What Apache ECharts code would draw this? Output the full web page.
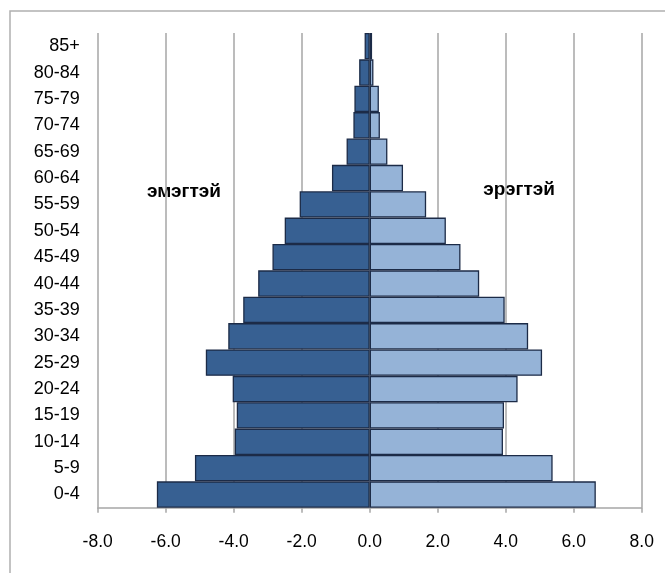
<!DOCTYPE html>
<html>
<head>
<meta charset="utf-8">
<script src="https://cdn.jsdelivr.net/npm/echarts@6/dist/echarts.min.js"></script>
<style>
html,body{margin:0;padding:0;background:#fff;}
#main{width:665px;height:573px;}
</style>
</head>
<body>
<div id="main"></div>
<script>
var categories = ['0-4','5-9','10-14','15-19','20-24','25-29','30-34','35-39','40-44','45-49','50-54','55-59','60-64','65-69','70-74','75-79','80-84','85+'];
var female = [-6.26,-5.14,-3.97,-3.91,-4.03,-4.82,-4.16,-3.72,-3.28,-2.86,-2.50,-2.06,-1.11,-0.68,-0.48,-0.45,-0.31,-0.15];
var male = [6.65,5.38,3.92,3.95,4.35,5.07,4.66,3.97,3.22,2.67,2.24,1.66,0.98,0.52,0.30,0.27,0.11,0.07];
var xTicks = [-8,-6,-4,-2,0,2,4,6,8];
var femaleLabel = 'эмэгтэй';
var maleLabel = 'эрэгтэй';

var chart = echarts.init(document.getElementById('main'), null, {renderer:'canvas'});
var lab = '"Liberation Sans", Arial, sans-serif';
var option = {
  animation:false,
  backgroundColor:'#ffffff',
  grid:{left:97.7, right:23.3, top:33, bottom:65.3, containLabel:false},
  xAxis:{
    type:'value', min:xTicks[0], max:xTicks[xTicks.length-1], interval:2,
    axisLine:{show:true, onZero:false, lineStyle:{color:'#a6a6a6', width:1.5}},
    axisTick:{show:true, length:5, lineStyle:{color:'#a6a6a6', width:1.5}},
    splitLine:{show:true, lineStyle:{color:'#a6a6a6', width:1.5}},
    axisLabel:{margin:25, fontSize:17.5, color:'#000', fontFamily:lab,
      formatter:function(v){return v.toFixed(1);}}
  },
  yAxis:{
    type:'category', data:categories,
    axisLine:{show:false},
    axisTick:{show:false},
    splitLine:{show:false},
    axisLabel:{margin:18, fontSize:18, color:'#000', fontFamily:lab}
  },
  series:[
    {name:femaleLabel, type:'bar', data:female, barGap:'-100%', barCategoryGap:0,
     itemStyle:{color:'#376092', borderColor:'#1c2b47', borderWidth:1.3}},
    {name:maleLabel, type:'bar', data:male, barGap:'-100%', barCategoryGap:0,
     itemStyle:{color:'#95b3d7', borderColor:'#1c2b47', borderWidth:1.3}}
  ],
  graphic:[
    {type:'rect', shape:{x:10, y:11, width:700, height:700}, style:{fill:'none', stroke:'#b0b0b0', lineWidth:1.5}, silent:true},
    {type:'text', x:184, y:192, style:{text:femaleLabel, font:'bold 19px "Liberation Sans", Arial, sans-serif', fill:'#000', textAlign:'center', textVerticalAlign:'middle'}},
    {type:'text', x:519, y:190, style:{text:maleLabel, font:'bold 19px "Liberation Sans", Arial, sans-serif', fill:'#000', textAlign:'center', textVerticalAlign:'middle'}}
  ]
};
chart.setOption(option);
</script>
</body>
</html>
